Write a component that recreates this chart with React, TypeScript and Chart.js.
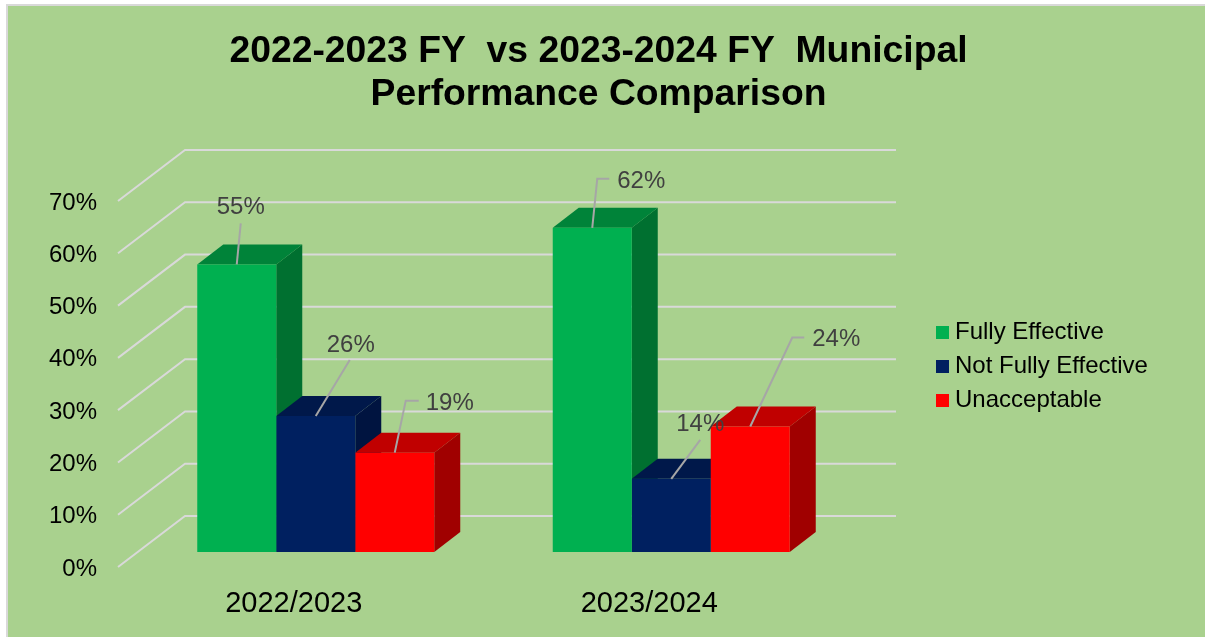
import React, { useEffect, useRef } from "react";
import { Chart, registerables } from "chart.js";

Chart.register(...registerables);

const categories = ["2022/2023", "2023/2024"];
const fullyEffective = [55, 62];
const notFullyEffective = [26, 14];
const unacceptable = [19, 24];
const yTicksMax = 70;
const titleLines = ["2022-2023 FY  vs 2023-2024 FY  Municipal", "Performance Comparison"];

const FONT = "'Liberation Sans', Arial, sans-serif";
const BACKGROUND = "#A9D18E";
const GRID = "#D9D9D9";
const LEADER = "#A6A6A6";
const LABEL = "#404040";

// Shades for the 3D faces [front, top, side]
const shades = [
  ["#00B050", "#008339", "#007030"],
  ["#002060", "#00184A", "#001440"],
  ["#FF0000", "#C00000", "#A00000"],
];

// Projection offsets
const barDepth = { dx: 26, dy: -20 };
const wallDepth = { dx: 47, dy: -36 };
const floorFront = { dx: -20, dy: 15 };

// Callout layout, relative to the top centre of each bar's front face: anchor, optional elbow, line end, label centre
type Callout = { start: number[]; elbow?: number[]; end: number[]; label: number[] };
const callouts: Callout[][] = [
  [
    { start: [0, 0], end: [4, -41], label: [4, -57] },
    { start: [0, 0], end: [34, -56], label: [35, -71] },
    { start: [0, 0], elbow: [11, -52], end: [24, -52], label: [55, -49] },
  ],
  [
    { start: [0, 0], elbow: [5, -49], end: [17, -49], label: [49, -46] },
    { start: [0, 0], end: [29, -39], label: [29, -54] },
    { start: [0, 0], elbow: [42, -89], end: [54, -89], label: [86, -87] },
  ],
];

const poly = (ctx: CanvasRenderingContext2D, pts: number[][], fill: string) => {
  ctx.beginPath();
  pts.forEach((p, i) => (i ? ctx.lineTo(p[0], p[1]) : ctx.moveTo(p[0], p[1])));
  ctx.closePath();
  ctx.fillStyle = fill;
  ctx.fill();
};

const backgroundPlugin = {
  id: "frameBackground",
  beforeDraw(chart: any) {
    const { ctx, width, height } = chart;
    ctx.save();
    ctx.fillStyle = "#FFFFFF";
    ctx.fillRect(0, 0, width, height);
    ctx.fillStyle = GRID;
    ctx.fillRect(6, 4, width - 6, height - 4);
    ctx.fillStyle = BACKGROUND;
    ctx.fillRect(8, 6, width - 8, height - 6);
    ctx.restore();
  },
};

const wallPlugin = {
  id: "wallsAndDepth",
  beforeDatasetsDraw(chart: any) {
    const { ctx, chartArea, scales } = chart;
    ctx.save();
    ctx.strokeStyle = GRID;
    ctx.lineWidth = 2;
    scales.y.ticks.forEach((t: any) => {
      const p = scales.y.getPixelForValue(t.value);
      ctx.beginPath();
      ctx.moveTo(chartArea.left + floorFront.dx, p + floorFront.dy);
      ctx.lineTo(chartArea.left + wallDepth.dx, p + wallDepth.dy);
      ctx.lineTo(chartArea.right + wallDepth.dx, p + wallDepth.dy);
      ctx.stroke();
    });
    chart.data.datasets.forEach((_: any, di: number) => {
      chart.getDatasetMeta(di).data.forEach((el: any) => {
        const l = el.x - el.width / 2;
        const r = el.x + el.width / 2;
        const { dx, dy } = barDepth;
        poly(ctx, [[r, el.y], [r + dx, el.y + dy], [r + dx, el.base + dy], [r, el.base]], shades[di][2]);
        poly(ctx, [[l, el.y], [l + dx, el.y + dy], [r + dx, el.y + dy], [r, el.y]], shades[di][1]);
      });
    });
    ctx.restore();
  },
};

const calloutPlugin = {
  id: "callouts",
  afterDatasetsDraw(chart: any) {
    const { ctx } = chart;
    ctx.save();
    ctx.font = `24px ${FONT}`;
    ctx.textAlign = "center";
    ctx.textBaseline = "middle";
    chart.data.datasets.forEach((ds: any, di: number) => {
      chart.getDatasetMeta(di).data.forEach((el: any, i: number) => {
        const c = callouts[i][di];
        ctx.strokeStyle = LEADER;
        ctx.lineWidth = 2;
        ctx.beginPath();
        ctx.moveTo(el.x + c.start[0], el.y + c.start[1]);
        if (c.elbow) ctx.lineTo(el.x + c.elbow[0], el.y + c.elbow[1]);
        ctx.lineTo(el.x + c.end[0], el.y + c.end[1]);
        ctx.stroke();
        ctx.fillStyle = LABEL;
        ctx.fillText(`${ds.data[i]}%`, el.x + c.label[0], el.y + c.label[1]);
      });
    });
    ctx.restore();
  },
};

const legendPlugin = {
  id: "sideLegend",
  afterDraw(chart: any) {
    const { ctx } = chart;
    ctx.save();
    ctx.font = `24px ${FONT}`;
    ctx.textAlign = "left";
    ctx.textBaseline = "middle";
    chart.data.datasets.forEach((ds: any, i: number) => {
      const cy = 332.5 + i * 34;
      ctx.fillStyle = ds.backgroundColor;
      ctx.fillRect(936, cy - 6.5, 13, 13);
      ctx.fillStyle = "#000000";
      ctx.fillText(ds.label, 955, cy);
    });
    ctx.restore();
  },
};

export default function App() {
  const ref = useRef<HTMLCanvasElement | null>(null);
  useEffect(() => {
    document.body.style.margin = "0";
    const chart = new Chart(ref.current as HTMLCanvasElement, {
      type: "bar",
      data: {
        labels: categories,
        datasets: [
          { label: "Fully Effective", data: fullyEffective, backgroundColor: shades[0][0] },
          { label: "Not Fully Effective", data: notFullyEffective, backgroundColor: shades[1][0] },
          { label: "Unacceptable", data: unacceptable, backgroundColor: shades[2][0] },
        ],
      },
      options: {
        animation: false,
        responsive: false,
        layout: { padding: { left: 0, right: 8, top: 0, bottom: 0 } },
        datasets: { bar: { categoryPercentage: 2 / 3, barPercentage: 1, borderWidth: 0 } },
        plugins: {
          legend: { display: false },
          tooltip: { enabled: false },
          title: {
            display: true,
            text: titleLines,
            color: "#000000",
            font: { family: FONT, size: 37.3, weight: "bold", lineHeight: 1.153 },
            padding: { top: 30, bottom: 70 },
          },
        },
        scales: {
          x: {
            grid: { display: false },
            border: { display: false },
            ticks: {
              color: "#000000",
              font: { family: FONT, size: 29 },
              padding: 27,
              labelOffset: -22,
              maxRotation: 0,
            },
            afterFit: (s: any) => {
              s.height = 85;
            },
          },
          y: {
            min: 0,
            max: yTicksMax,
            grid: { display: false, drawTicks: false },
            border: { display: false },
            ticks: {
              stepSize: 10,
              color: "#000000",
              font: { family: FONT, size: 24 },
              padding: 41,
              labelOffset: 17,
              callback: (v: any) => `${v}%`,
            },
            afterFit: (s: any) => {
              s.width = 138;
            },
          },
          legendGutter: {
            type: "linear",
            position: "right",
            display: true,
            grid: { display: false, drawTicks: false },
            border: { display: false },
            ticks: { display: false },
            afterFit: (s: any) => {
              s.width = 348;
            },
          },
        },
      } as any,
      plugins: [backgroundPlugin, wallPlugin, calloutPlugin, legendPlugin],
    });
    return () => chart.destroy();
  }, []);
  return <canvas ref={ref} width={1205} height={637} style={{ display: "block" }} />;
}
